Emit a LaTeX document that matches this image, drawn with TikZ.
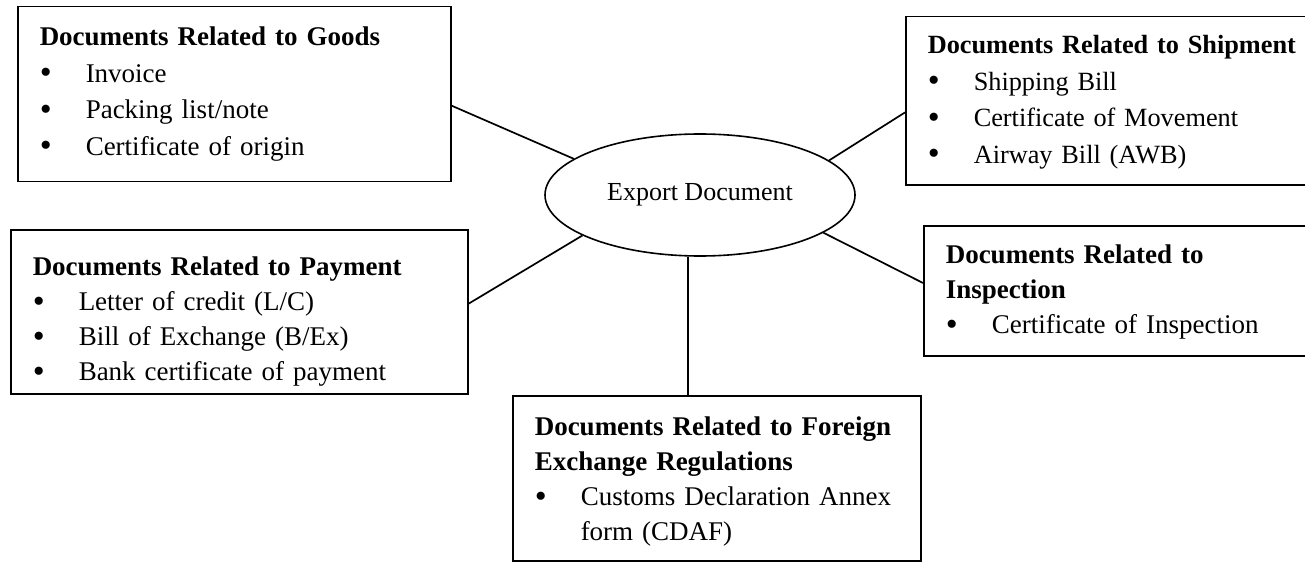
\documentclass[tikz,border=0pt]{standalone}
\usepackage{fontspec}
\setmainfont{Liberation Serif}
\usetikzlibrary{shapes.geometric}
\newcommand{\bul}{\makebox[46pt][l]{\raisebox{-1.5pt}{\fontsize{34}{34}\selectfont\textbullet}}}
\newcommand{\bulgap}{\makebox[46pt][l]{}}

\begin{document}
\begin{tikzpicture}
  [x=1pt,y=-1pt,every node/.style={inner sep=0pt},
   docbox/.style={draw,line width=1.5pt,anchor=north west,align=left,
     inner xsep=22pt,font=\fontsize{27}{36.5}\selectfont},
   hub/.style={draw,ellipse,line width=1.6pt,minimum width=310pt,
     minimum height=122pt,font=\fontsize{26}{30}\selectfont},
   link/.style={line width=1.7pt}]
\useasboundingbox (0,0) rectangle (1305,564);
\node (export)[hub] at (700,195) {Export Document};
\node (goods)[docbox,text width=389pt,text height=39pt,text depth=136pt] at (17,6)
  {\textbf{Documents Related to Goods}\\
   \bul Invoice\\
   \bul Packing list/note\\
   \bul Certificate of origin};
\node (ship)[docbox,text width=400pt,text height=37pt,text depth=131pt,
   font=\fontsize{26.3}{36.5}\selectfont] at (905,16)
  {\textbf{Documents Related to Shipment}\\
   \bul Shipping Bill\\
   \bul Certificate of Movement\\
   \bul Airway Bill (AWB)};
\node (pay)[docbox,text width=413pt,text height=46pt,text depth=118pt,
   font=\fontsize{27}{35}\selectfont] at (10,229)
  {\textbf{Documents Related to Payment}\\
   \bul Letter of credit (L/C)\\
   \bul Bill of Exchange (B/Ex)\\
   \bul Bank certificate of payment};
\node (insp)[docbox,text width=400pt,text height=38pt,text depth=92pt,
   font=\fontsize{27}{35}\selectfont] at (923,225)
  {\textbf{Documents Related to}\\
   \textbf{Inspection}\\
   \bul Certificate of Inspection};
\node (forex)[docbox,text width=364pt,text height=40pt,text depth=125pt,
   font=\fontsize{27}{35}\selectfont] at (512,395)
  {\textbf{Documents Related to Foreign}\\
   \textbf{Exchange Regulations}\\
   \bul Customs Declaration Annex\\
   \bulgap form (CDAF)};

 \foreach \from/\to in {goods.-3.8/export.164,ship.183.4/export.15,
   pay.2.8/export.199,insp.178.2/export.343}
    \draw[link] (\from) -- (\to);
 \draw[link] (export.259) -- (export.259 |- forex.north);
\end{tikzpicture}
\end{document}
